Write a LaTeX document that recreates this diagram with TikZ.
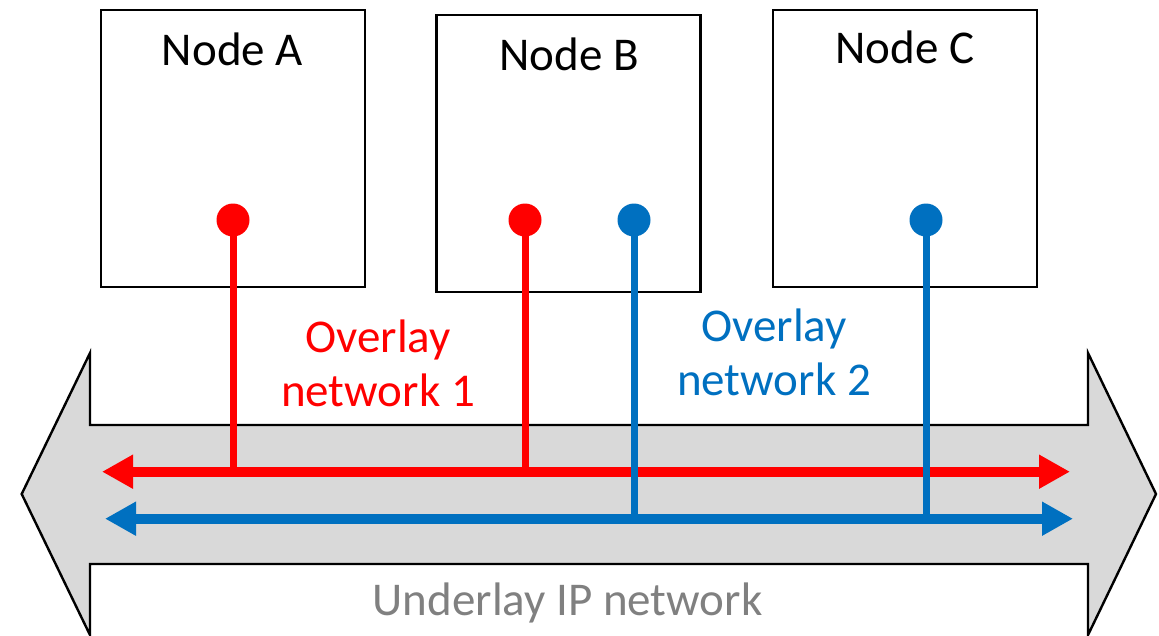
\documentclass[tikz,border=0pt]{standalone}
\usepackage{fontspec}
\setmainfont{Carlito}
\usetikzlibrary{arrows.meta}
\definecolor{ovred}{HTML}{FF0000}
\definecolor{ovblue}{HTML}{0070C0}
\definecolor{underlay}{HTML}{D9D9D9}
\definecolor{labelgray}{HTML}{808080}
\tikzset{
  hostbox/.style={draw=black, line width=2.4pt, fill=white, minimum width=264pt, minimum height=277pt, inner sep=0pt},
  hostname/.style={font=\fontsize{47}{54}\selectfont, anchor=base, inner sep=0pt},
  port/.style={circle, fill=#1, minimum size=33pt, inner sep=0pt},
  drop/.style={line width=7pt, #1},
  bus/.style={line width=10pt, #1, {Triangle[length=31pt,width=32pt]}-{Triangle[length=31pt,width=32pt]}},
  netlabel/.style={font=\fontsize{47}{54}\selectfont, align=center, text=#1, anchor=base, inner sep=0pt},
}
\begin{document}
\begin{tikzpicture}[x=1pt,y=-1pt]
\useasboundingbox (0,0) rectangle (1159,635);

% underlay network: wide double-headed block arrow
\draw[fill=underlay, line width=2.4pt, line join=miter]
  (21.7,494) -- (90,353) -- (90,425) -- (1088,425) -- (1088,353)
  -- (1156,494) -- (1088,635) -- (1088,564) -- (90,564) -- (90,635) -- cycle;
\node[font=\fontsize{47}{54}\selectfont, text=labelgray, anchor=base, inner sep=0pt] (under) at (567.5,615) {Underlay IP network};

% hosts
\node[hostbox] (A) at (233,148.5) {};
\node[hostbox] (B) at (568.5,153.5) {};
\node[hostbox] (C) at (905,148.5) {};
\node[hostname] (An) at (232.5,65) {Node A};
\node[hostname] (Bn) at (569,70) {Node B};
\node[hostname] (Cn) at (905,63) {Node C};

% overlay buses
\coordinate (r1) at (102,471.7);
\coordinate (r2) at (1070,471.7);
\coordinate (b1) at (105,518.7);
\coordinate (b2) at (1073,518.7);
\draw[bus=ovred] (r1) -- (r2);
\draw[bus=ovblue] (b1) -- (b2);

% ports and their drops onto the buses
\node[port=ovred] (pA) at (233,220) {};
\node[port=ovred] (pBr) at (525,220) {};
\node[port=ovblue] (pBb) at (634,220) {};
\node[port=ovblue] (pC) at (926,220) {};
\coordinate (jA) at (233,471.7);
\coordinate (jBr) at (525,471.7);
\coordinate (jBb) at (634,518.7);
\coordinate (jC) at (926,518.7);
\draw[drop=ovred] (pA.center) -- (jA);
\draw[drop=ovred] (pBr.center) -- (jBr);
\draw[drop=ovblue] (pBb.center) -- (jBb);
\draw[drop=ovblue] (pC.center) -- (jC);

% overlay labels (anchored at the baseline of their last line)
\node[netlabel=ovred] (ov1) at (378,406.7) {Overlay\\network 1};
\node[netlabel=ovblue] (ov2) at (774,395) {Overlay\\network 2};
\end{tikzpicture}
\end{document}
